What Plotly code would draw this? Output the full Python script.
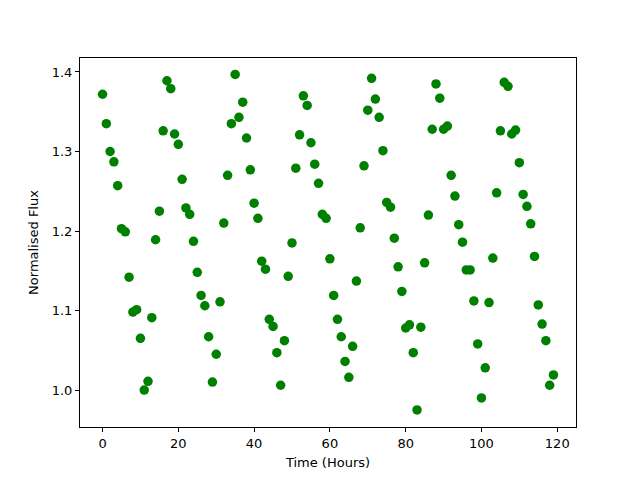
import plotly.graph_objects as go

time_hours = list(range(120))
flux = [
    1.372, 1.335, 1.300, 1.287, 1.257, 1.203, 1.199, 1.142, 1.098, 1.101,
    1.065, 1.000, 1.011, 1.091, 1.189, 1.225, 1.326, 1.389, 1.379, 1.322,
    1.309, 1.265, 1.229, 1.221, 1.187, 1.148, 1.119, 1.106, 1.067, 1.010,
    1.045, 1.111, 1.210, 1.270, 1.335, 1.397, 1.343, 1.362, 1.317, 1.277,
    1.235, 1.216, 1.162, 1.152, 1.089, 1.080, 1.047, 1.006, 1.062, 1.143,
    1.185, 1.279, 1.321, 1.370, 1.358, 1.311, 1.284, 1.260, 1.221, 1.216,
    1.165, 1.119, 1.089, 1.067, 1.036, 1.016, 1.055, 1.137, 1.204, 1.282,
    1.352, 1.392, 1.366, 1.343, 1.301, 1.236, 1.230, 1.191, 1.155, 1.124,
    1.078, 1.082, 1.047, 0.975, 1.079, 1.160, 1.220, 1.328, 1.385, 1.367,
    1.328, 1.332, 1.270, 1.244, 1.208, 1.186, 1.151, 1.151, 1.112, 1.058,
    0.990, 1.028, 1.110, 1.166, 1.248, 1.326, 1.387, 1.382, 1.322, 1.327,
    1.286, 1.246, 1.231, 1.209, 1.168, 1.107, 1.083, 1.062, 1.006, 1.019,
]
x_ticks = [0, 20, 40, 60, 80, 100, 120]
y_ticks = [1.0, 1.1, 1.2, 1.3, 1.4]

fig = go.Figure(go.Scatter(
    x=time_hours, y=flux, mode="markers",
    marker=dict(color="green", size=9.5, line=dict(width=0)),
))

axis_common = dict(
    showline=True, linecolor="black", linewidth=1, mirror=True,
    ticks="outside", ticklen=4, tickwidth=1, tickcolor="black",
    showgrid=False, zeroline=False, automargin=False,
    tickfont=dict(family="DejaVu Sans", size=13, color="black"),
)

fig.update_layout(
    width=632, height=472,
    margin=dict(l=72, r=64, t=50, b=53),
    paper_bgcolor="white", plot_bgcolor="white",
    showlegend=False,
    font=dict(family="DejaVu Sans", size=13, color="black"),
    xaxis=dict(range=[-5.95, 124.95], tickvals=x_ticks,
               title=dict(text="Time (Hours)", standoff=8,
                          font=dict(family="DejaVu Sans", size=13, color="black")),
               **axis_common),
    yaxis=dict(range=[0.9535, 1.4176], tickvals=y_ticks,
               ticktext=[f"{v:.1f}" for v in y_ticks],
               title=dict(text="Normalised Flux", standoff=10,
                          font=dict(family="DejaVu Sans", size=13, color="black")),
               **axis_common),
)

fig.write_html("out.html")
